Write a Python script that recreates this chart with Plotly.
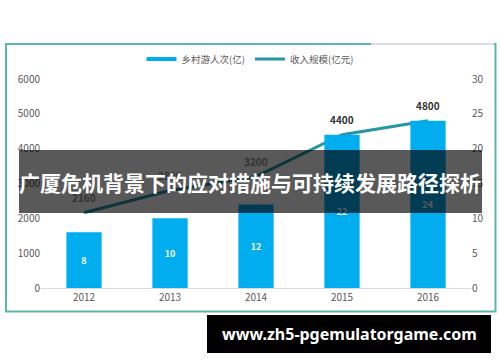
import plotly.graph_objects as go

years = ["2012", "2013", "2014", "2015", "2016"]
visitors = [8, 10, 12, 22, 24]          # 乡村游人次(亿) - bars, right axis
revenue = [2160, 2800, 3200, 4400, 4800]  # 收入规模(亿元) - line, left axis

BAR = "#00AEEF"
LINE = "#2596A5"
FONT = "Noto Sans CJK SC"

xs = list(range(len(years)))

fig = go.Figure()
fig.add_trace(go.Bar(
    x=xs, y=visitors, name="乡村游人次(亿)", yaxis="y2",
    marker=dict(color=BAR, line=dict(width=0)), width=0.41,
    text=[f"<b>{v}</b>" for v in visitors], textposition="inside",
    insidetextanchor="middle",
    textfont=dict(color="white", size=9, family=FONT),
    showlegend=False,
))
fig.add_trace(go.Scatter(
    x=xs, y=revenue, name="收入规模(亿元)", mode="lines", yaxis="y",
    line=dict(color=LINE, width=3), showlegend=False,
))
# legend entries (line-style swatches as in the reference)
fig.add_trace(go.Scatter(x=[None], y=[None], mode="lines", name="乡村游人次(亿)",
                         line=dict(color=BAR, width=4)))
fig.add_trace(go.Scatter(x=[None], y=[None], mode="lines", name="收入规模(亿元)",
                         line=dict(color=LINE, width=3)))

for x, v in zip(xs, revenue):
    fig.add_annotation(x=x, y=v, xref="x", yref="y", text=f"<b>{v}</b>",
                       showarrow=False, yshift=15,
                       font=dict(size=10, color="#333333", family=FONT))

def px2x(px):
    return (px - 41) / 430

def py2y(py):
    return (288 - py) / 209

shapes = [
    dict(type="rect", xref="paper", yref="paper", x0=px2x(6), x1=px2x(495.5),
         y0=py2y(311.5), y1=py2y(44), line=dict(color="#5DB5A9", width=2), layer="below"),
    dict(type="line", xref="paper", yref="paper", x0=px2x(371), x1=px2x(494),
         y0=py2y(44), y1=py2y(44), line=dict(color="#DDDDDD", width=2), layer="below"),
    dict(type="rect", xref="paper", yref="paper", x0=px2x(19), x1=px2x(482),
         y0=py2y(213), y1=py2y(150), fillcolor="rgba(0,0,0,0.65)", line=dict(width=0), layer="above"),
    dict(type="rect", xref="paper", yref="paper", x0=px2x(207), x1=px2x(491),
         y0=py2y(353), y1=py2y(315), fillcolor="#000000", line=dict(width=0), layer="above"),
]

fig.add_annotation(xref="paper", yref="paper", x=px2x(250), y=py2y(182),
                   xanchor="center", yanchor="middle",
                   text="<b>广厦危机背景下的应对措施与可持续发展路径探析</b>", showarrow=False,
                   font=dict(size=21, color="white", family=FONT))
fig.add_annotation(xref="paper", yref="paper", x=px2x(349), y=py2y(334),
                   xanchor="center", yanchor="middle",
                   text="<b>www.zh5-pgemulatorgame.com</b>", showarrow=False,
                   font=dict(size=16, color="white", family="Noto Sans"))

fig.update_layout(
    width=500, height=362,
    margin=dict(l=41, r=29, t=79, b=74),
    paper_bgcolor="white", plot_bgcolor="white",
    font=dict(family=FONT, size=10, color="#595959"),
    shapes=shapes,
    showlegend=True,
    legend=dict(orientation="h", x=px2x(250), xanchor="center", y=py2y(59), yanchor="middle",
                font=dict(size=9.5, color="#595959"), bgcolor="rgba(0,0,0,0)",
                itemwidth=30, tracegroupgap=0),
    xaxis=dict(range=[-0.5, 4.5], tickvals=xs, ticktext=years, showgrid=False,
               zeroline=False, showline=True, linecolor="#D9D9D9", ticks="",
               tickfont=dict(size=10, color="#595959")),
    yaxis=dict(range=[0, 6000], tickvals=[0, 1000, 2000, 3000, 4000, 5000, 6000],
               showgrid=False, zeroline=False, showline=False,
               tickfont=dict(size=10, color="#595959")),
    yaxis2=dict(range=[0, 30], tickvals=[0, 5, 10, 15, 20, 25, 30], overlaying="y", side="right",
                showgrid=False, zeroline=False, showline=False,
                tickfont=dict(size=10, color="#595959")),
)

fig.write_html("out.html", config={"displayModeBar": False},
               post_script="document.body.style.margin='0';document.body.style.padding='0';document.body.style.overflow='hidden';")
